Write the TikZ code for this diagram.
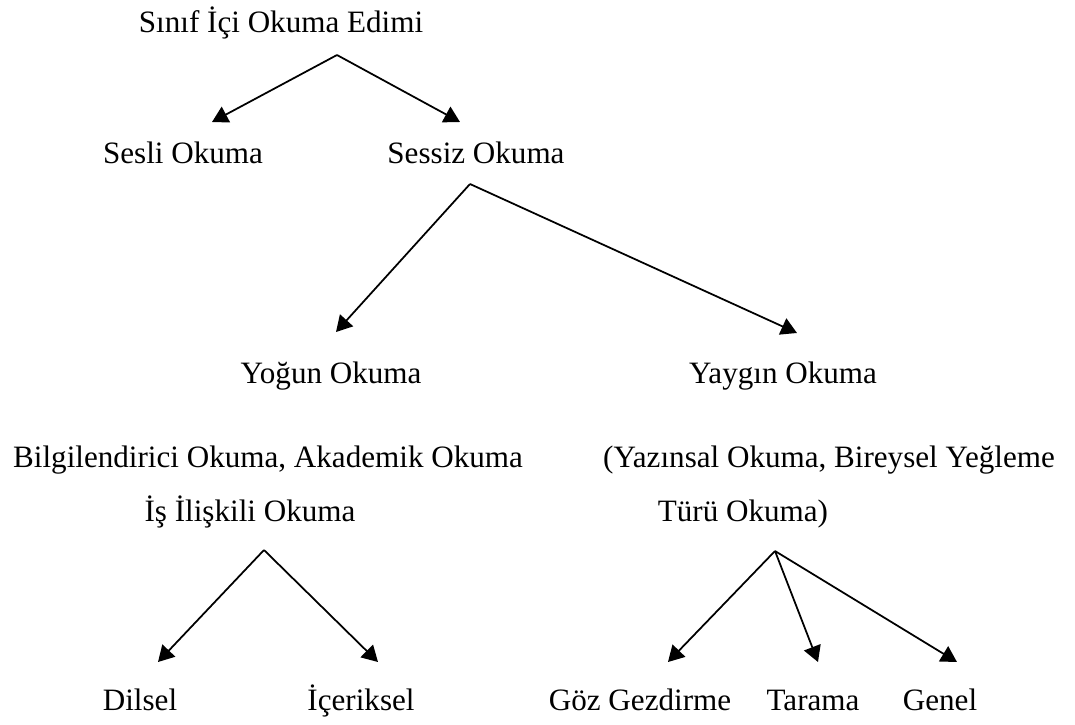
\documentclass[tikz,border=0pt]{standalone}
\usepackage{fontspec}
\setmainfont{Liberation Serif}
\usetikzlibrary{arrows.meta}
\begin{document}
\begin{tikzpicture}[auto]
    % Define styles
    \tikzstyle{lbl} = [inner sep=0pt, font=\fontsize{17.7}{21}\selectfont, text height=12pt, text depth=4pt]
    \tikzstyle{line} = [draw, line width=1pt, -{Triangle[length=9pt,width=10pt]}]

    \useasboundingbox (0,0) rectangle (21.5,-14.48);

    % Place nodes - top levels
    \node [lbl] (edim) at (5.62,-0.5) {Sınıf İçi Okuma Edimi};
    \node [lbl, below of=edim, node distance=2.62cm, xshift=-1.96cm] (sesli) {Sesli Okuma};
    \node [lbl, below of=edim, node distance=2.62cm, xshift=3.9cm] (sessiz) {Sessiz Okuma};
    \node [lbl, below of=sessiz, node distance=4.4cm, xshift=-2.9cm] (yogun) {Yoğun Okuma};
    \node [lbl, below of=sessiz, node distance=4.4cm, xshift=6.14cm] (yaygin) {Yaygın Okuma};

    % Place nodes - kinds of reading
    \node [lbl, below of=yogun, node distance=1.68cm, xshift=-1.26cm] (bilgi) {Bilgilendirici Okuma, Akademik Okuma};
    \node [lbl, below of=bilgi, node distance=1.08cm, xshift=-0.36cm] (isokuma) {İş İlişkili Okuma};
    \node [lbl, below of=yaygin, node distance=1.68cm, xshift=0.92cm] (yazinsal) {(Yazınsal Okuma, Bireysel Yeğleme};
    \node [lbl, below of=yazinsal, node distance=1.08cm, xshift=-1.72cm] (turu) {Türü Okuma)};

    % Place nodes - bottom row
    \node [lbl, below of=isokuma, node distance=3.78cm, xshift=-2.2cm] (dilsel) {Dilsel};
    \node [lbl, below of=isokuma, node distance=3.78cm, xshift=2.22cm] (iceriksel) {İçeriksel};
    \node [lbl, below of=turu, node distance=3.78cm, xshift=-2.06cm] (goz) {Göz Gezdirme};
    \node [lbl, below of=turu, node distance=3.78cm, xshift=1.4cm] (tarama) {Tarama};
    \node [lbl, below of=turu, node distance=3.78cm, xshift=3.94cm] (genel) {Genel};

    % Arrow ends
    \coordinate (edimtop) at (6.74,-1.10);
    \coordinate (seslitip) at (4.24,-2.44);
    \coordinate (sessiztip) at (9.20,-2.44);
    \coordinate (sessiztop) at (9.40,-3.68);
    \coordinate (yoguntip) at (6.72,-6.64);
    \coordinate (yaygintip) at (15.94,-6.66);
    \coordinate (istop) at (5.28,-11.00);
    \coordinate (dilseltip) at (3.16,-13.24);
    \coordinate (iceriktip) at (7.56,-13.24);
    \coordinate (turutop) at (15.50,-11.02);
    \coordinate (goztip) at (13.36,-13.24);
    \coordinate (taramatip) at (16.36,-13.24);
    \coordinate (geneltip) at (19.14,-13.24);

    % Draw edges
    \path [line] (edimtop) -- (seslitip);
    \path [line] (edimtop) -- (sessiztip);
    \path [line] (sessiztop) -- (yoguntip);
    \path [line] (sessiztop) -- (yaygintip);
    \path [line] (istop) -- (dilseltip);
    \path [line] (istop) -- (iceriktip);
    \path [line] (turutop) -- (goztip);
    \path [line] (turutop) -- (taramatip);
    \path [line] (turutop) -- (geneltip);

\end{tikzpicture}
\end{document}
